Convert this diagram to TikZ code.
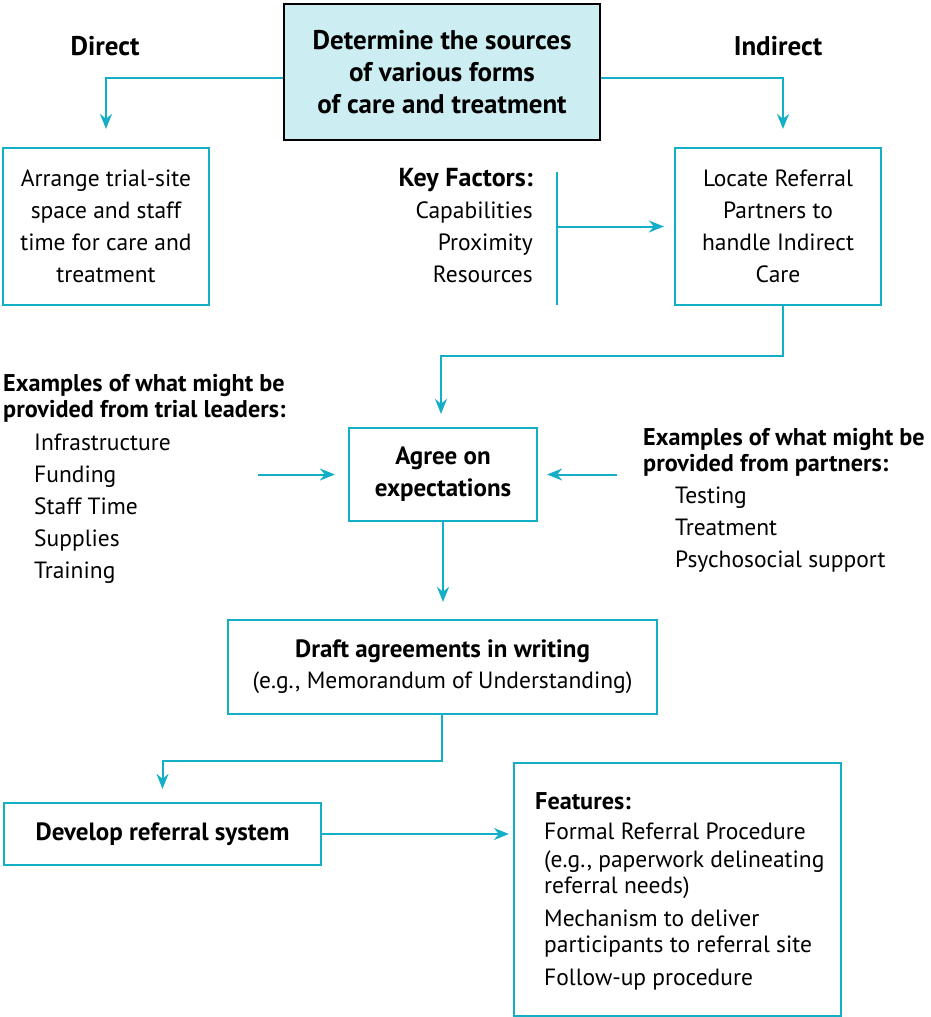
\documentclass[tikz,border=0pt]{standalone}
\usepackage{fontspec}
\setmainfont{PT Sans}
\usetikzlibrary{arrows.meta}
\definecolor{cy}{RGB}{20,174,199}
\definecolor{lightcy}{RGB}{204,238,242}
\begin{document}
\begin{tikzpicture}[x=1pt,y=-1pt,
 txt/.style={font=\fontsize{23.5}{32}\selectfont, inner sep=0pt},
 bftxt/.style={font=\fontsize{25}{32}\selectfont\bfseries, inner sep=0pt},
 bigbf/.style={font=\fontsize{27}{32}\selectfont\bfseries, inner sep=0pt},
 box/.style={draw=cy, line width=2.2pt, inner sep=0pt},
 conn/.style={draw=cy, line width=2pt},
 arr/.style={conn, -{Stealth[length=15pt,width=12pt]}},
 lst/.style={txt, anchor=mid west, yshift=-4pt},
 bflst/.style={font=\fontsize{24.2}{32}\selectfont\bfseries, inner sep=0pt, anchor=mid west, yshift=-4pt},
]
\useasboundingbox (0,0) rectangle (931,1017);

% boxes
\node[draw=black, fill=lightcy, line width=2.4pt, minimum width=316pt, minimum height=136pt, bigbf, align=center] (top) at (442,72) {Determine the sources\\of various forms\\of care and treatment};
\node[box, txt, align=center, minimum width=206pt, minimum height=157pt] (left) at (106,226.5) {Arrange trial-site\\space and staff\\time for care and\\treatment};
\node[box, txt, align=center, minimum width=206pt, minimum height=157pt] (locate) at (778,226.5) {Locate Referral\\Partners to\\handle Indirect\\Care};
\node[box, bftxt, align=center, minimum width=188pt, minimum height=93pt] (agree) at (443,474.5) {Agree on\\expectations};
\node[box, align=center, minimum width=429pt, minimum height=94pt, font=\fontsize{23.5}{31}\selectfont] (draft) at (442.5,667) {{\fontsize{25}{31}\selectfont\bfseries Draft agreements in writing}\\(e.g., Memorandum of Understanding)};
\node[box, bftxt, minimum width=317pt, minimum height=62pt] (develop) at (162.5,834) {Develop referral system};
\node[box, minimum width=327pt, minimum height=253pt] (features) at (677.5,889.5) {};

% labels
\node[bigbf] (direct) at (105,46) {Direct};
\node[bigbf] (indirect) at (778,46) {Indirect};

\node[bftxt, font=\fontsize{26}{32}\selectfont\bfseries, anchor=mid east, yshift=-3pt] (kf) at (533,181) {Key Factors:};
\node[txt, anchor=mid east, yshift=-3pt] (kf1) at (533,213) {Capabilities};
\node[txt, anchor=mid east, yshift=-3pt] (kf2) at (533,245) {Proximity};
\node[txt, anchor=mid east, yshift=-3pt] (kf3) at (533,277) {Resources};

\node[bflst] (lh1) at (3,385) {Examples of what might be};
\node[bflst] (lh2) at (3,411) {provided from trial leaders:};
\node[lst] (l1) at (34,444) {Infrastructure};
\node[lst] (l2) at (34,476) {Funding};
\node[lst] (l3) at (34,508) {Staff Time};
\node[lst] (l4) at (34,540) {Supplies};
\node[lst] (l5) at (34,572) {Training};

\node[bflst] (rh1) at (643,439) {Examples of what might be};
\node[bflst] (rh2) at (643,465) {provided from partners:};
\node[lst] (r1) at (675,497) {Testing};
\node[lst] (r2) at (675,529) {Treatment};
\node[lst] (r3) at (675,561) {Psychosocial support};

\node[bflst] (fh) at (535,803) {Features:};
\node[lst] (f1) at (544,833) {Formal Referral Procedure};
\node[lst] (f2) at (544,861) {(e.g., paperwork delineating};
\node[lst] (f3) at (544,887) {referral needs)};
\node[lst] (f4) at (544,920) {Mechanism to deliver};
\node[lst] (f5) at (544,946) {participants to referral site};
\node[lst] (f6) at (544,979) {Follow-up procedure};

% coordinates
\coordinate (kt) at (557,172);
\coordinate (kb) at (557,305);
\coordinate (km) at (557,226.5);
\coordinate (la) at (258,474.5);
\coordinate (ra) at (617,474.5);

% connectors
\draw[arr, shorten >=18pt] ([yshift=-6pt]top.west) -| (left.north);
\draw[arr, shorten >=18pt] ([yshift=-6pt]top.east) -| ([xshift=5pt]locate.north);
\draw[conn] (kt) -- (kb);
\draw[arr, shorten >=10pt] (km) -- (locate.west);
\draw[arr, shorten >=13pt] ([xshift=5pt]locate.south) -- ++(0,50) -| ([xshift=-2pt]agree.north);
\draw[arr, shorten >=13pt] (la) -- (agree.west);
\draw[arr, shorten >=9pt] (ra) -- (agree.east);
\draw[arr, shorten >=17pt] (agree.south) -- (draft.north -| agree.south);
\draw[arr, shorten >=13pt] ([xshift=-1pt]draft.south) -- ++(0,46) -| (develop.north);
\draw[arr, shorten >=4pt] (develop.east) -- (features.west |- develop.east);
\end{tikzpicture}
\end{document}
